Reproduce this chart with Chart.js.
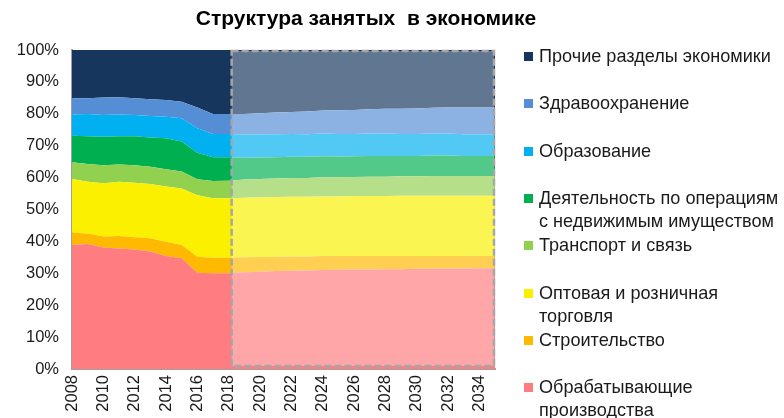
<!DOCTYPE html>
<html>
<head>
<meta charset="utf-8">
<script src="https://cdn.jsdelivr.net/npm/chart.js@4/dist/chart.umd.min.js"></script>
<style>
  html, body { margin: 0; padding: 0; background: #fff; }
  #wrap { position: relative; width: 784px; height: 418px; overflow: hidden; }
  #c { position: absolute; left: 0; top: 0; }
  #legend { position: absolute; left: 0; top: 0; width: 784px; height: 418px; pointer-events: none;
            font-family: "Liberation Sans", Arial, sans-serif; font-size: 18.1px; color: #1a1a1a; }
  .li { position: absolute; left: 539px; line-height: 23px; white-space: nowrap; }
  .sw { position: absolute; left: -15px; top: 7px; width: 9px; height: 9px; }
</style>
</head>
<body>
<div id="wrap">
  <canvas id="c" width="784" height="418"></canvas>
  <div id="legend"></div>
</div>
<script>
// ---- data ----
const years = [2008,2009,2010,2011,2012,2013,2014,2015,2016,2017,2018,2019,2020,2021,2022,2023,2024,2025,2026,2027,2028,2029,2030,2031,2032,2033,2034,2035];
const title = "Структура занятых  в экономике";

const manufacturing = [38.9,39.2,38.1,37.8,37.5,36.8,35.4,34.7,30.2,30.0,30.0, 30.3,30.5,30.7,30.8,30.9,31.0,31.1,31.2,31.2,31.3,31.3,31.4,31.4,31.5,31.5,31.6,31.6];
const construction  = [3.8,3.3,3.4,3.9,3.8,4.2,4.5,4.2,5.0,4.9,4.9, 4.7,4.6,4.5,4.5,4.4,4.4,4.3,4.2,4.2,4.1,4.1,4.0,4.0,3.9,3.9,3.8,3.8];
const trade         = [16.9,16.2,16.7,17.0,17.1,17.0,17.3,17.7,19.3,18.6,18.6, 18.7,18.7,18.7,18.7,18.7,18.7,18.7,18.8,18.8,18.8,18.9,18.9,18.9,18.9,18.9,18.9,18.9];
const transport     = [5.2,5.6,5.7,5.4,5.5,5.4,5.4,5.3,5.0,5.4,5.5, 5.7,5.8,5.8,5.9,5.9,6.0,6.0,6.0,6.1,6.1,6.1,6.1,6.2,6.2,6.2,6.2,6.2];
const realEstate    = [8.3,8.7,8.9,8.9,9.1,9.2,9.7,9.4,8.3,7.5,7.4, 6.8,6.7,6.7,6.6,6.6,6.6,6.5,6.5,6.5,6.5,6.4,6.4,6.4,6.4,6.3,6.3,6.3];
const education     = [6.7,6.9,6.8,6.8,6.6,6.7,6.8,7.3,7.7,7.3,7.3, 7.3,7.3,7.2,7.2,7.1,7.1,7.1,7.0,7.0,7.0,6.9,6.9,6.9,6.9,6.8,6.8,6.8];
const healthcare    = [5.1,5.0,5.5,5.4,5.3,5.3,5.2,5.2,6.5,6.2,6.2, 6.4,6.6,6.8,6.9,7.1,7.2,7.4,7.5,7.6,7.8,7.9,8.0,8.1,8.2,8.4,8.4,8.4];
const other         = [15.1,15.1,14.9,14.8,15.1,15.4,15.7,16.2,18.0,20.1,20.1, 20.1,19.8,19.6,19.4,19.3,19.0,18.9,18.8,18.6,18.4,18.4,18.3,18.1,18.0,18.0,18.0,18.0];

const seriesNames = [
  "Обрабатывающие производства",
  "Строительство",
  "Оптовая и розничная торговля",
  "Транспорт и связь",
  "Деятельность по операциям с недвижимым имуществом",
  "Образование",
  "Здравоохранение",
  "Прочие разделы экономики"
];
const legendLines = [
  ["Обрабатывающие","производства"],
  ["Строительство"],
  ["Оптовая и розничная","торговля"],
  ["Транспорт и связь"],
  ["Деятельность по операциям","с недвижимым имуществом"],
  ["Образование"],
  ["Здравоохранение"],
  ["Прочие разделы экономики"]
];
const forecastStartYear = 2018;

// ---- styles ----
const colors = ["#FF7C80","#FFB900","#FAF000","#92D050","#00B050","#00B0F0","#558ED5","#17365D"];
const seriesData = [manufacturing, construction, trade, transport, realEstate, education, healthcare, other];

const datasets = seriesData.map((d, i) => ({
  label: seriesNames[i],
  data: d,
  backgroundColor: colors[i],
  borderWidth: 0,
  borderColor: colors[i],
  pointRadius: 0,
  fill: i === 0 ? 'origin' : '-1',
  tension: 0
}));

const forecastPlugin = {
  id: 'forecast',
  afterDatasetsDraw(chart) {
    const {ctx, chartArea, scales} = chart;
    const xs = scales.x;
    const idx = years.indexOf(forecastStartYear);
    const x0 = xs.getPixelForValue(idx) + 3;
    const x1 = chartArea.right - 1;
    const y0 = chartArea.top + 1;
    const y1 = chartArea.bottom - 3;
    ctx.save();
    ctx.fillStyle = 'rgba(255,255,255,0.32)';
    ctx.fillRect(x0, y0, x1 - x0, y1 - y0);
    ctx.setLineDash([7, 3]);
    ctx.lineWidth = 2.5;
    ctx.strokeStyle = '#A6A6A6';
    ctx.strokeRect(x0, y0, x1 - x0, y1 - y0);
    ctx.restore();
  }
};

const titlePlugin = {
  id: 'titleText',
  afterDraw(chart) {
    const {ctx} = chart;
    ctx.save();
    ctx.font = 'bold 21px "Liberation Sans", Arial, sans-serif';
    ctx.fillStyle = '#000';
    ctx.textAlign = 'center';
    ctx.textBaseline = 'middle';
    ctx.fillText(title, 366, 19);
    ctx.restore();
  }
};

new Chart(document.getElementById('c'), {
  type: 'line',
  data: { labels: years.map(String), datasets },
  options: {
    responsive: false,
    animation: false,
    layout: { padding: { left: 0, right: 289, top: 50, bottom: 0 } },
    plugins: { legend: { display: false }, tooltip: { enabled: false }, title: { display: false } },
    scales: {
      x: {
        offset: false,
        grid: { display: false, drawTicks: false },
        border: { display: true, color: '#A0A0A0', width: 2 },
        ticks: {
          autoSkip: false,
          minRotation: 90, maxRotation: 90,
          padding: 6,
          color: '#1a1a1a',
          font: { family: '"Liberation Sans", Arial, sans-serif', size: 16.5 },
          callback: (v, i) => (i % 2 === 0 ? years[i] : '')
        },
        afterFit: s => { s.height = 49; }
      },
      y: {
        stacked: true,
        min: 0, max: 100,
        grid: { display: false, drawTicks: false },
        border: { display: true, color: '#A0A0A0', width: 2 },
        ticks: {
          stepSize: 10,
          padding: 13,
          color: '#1a1a1a',
          font: { family: '"Liberation Sans", Arial, sans-serif', size: 16.5 },
          callback: v => v + '%'
        },
        afterFit: s => { s.width = 72; }
      }
    }
  },
  plugins: [forecastPlugin, titlePlugin]
});

// ---- legend (HTML) ----
const leg = document.getElementById('legend');
const order = [7,6,5,4,3,2,1,0];
order.forEach((si, k) => {
  const div = document.createElement('div');
  div.className = 'li';
  div.style.top = (45 + k * 47.3) + 'px';
  const sw = document.createElement('span');
  sw.className = 'sw';
  sw.style.background = colors[si];
  div.appendChild(sw);
  legendLines[si].forEach((line, j) => {
    if (j > 0) div.appendChild(document.createElement('br'));
    div.appendChild(document.createTextNode(line));
  });
  leg.appendChild(div);
});
</script>
</body>
</html>
